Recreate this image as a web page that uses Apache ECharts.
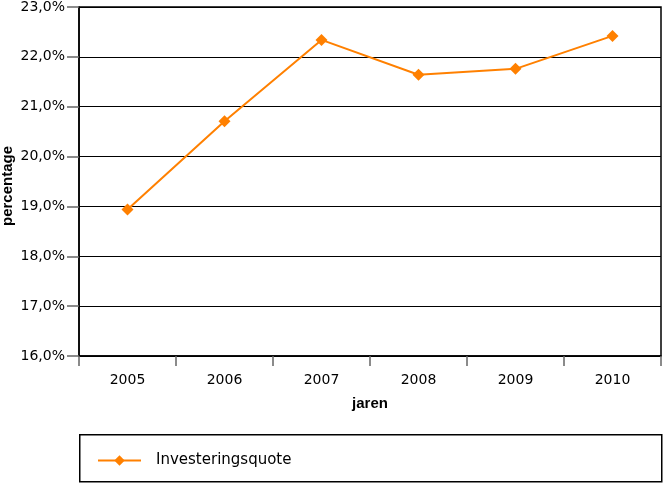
<!DOCTYPE html>
<html><head><meta charset="utf-8">
<script src="https://cdn.jsdelivr.net/npm/echarts@6/dist/echarts.min.js"></script>
<style>html,body{margin:0;padding:0;background:#fff}#c{width:664px;height:483px}</style>
</head><body><div id="c"></div>
<script>
const categories = ['2005','2006','2007','2008','2009','2010'];
const seriesName = 'Investeringsquote';
const values = [18.94, 20.71, 22.34, 21.64, 21.76, 22.42];
const yMin = 16, yMax = 23, yStep = 1;
const xName = 'jaren', yName = 'percentage';

const chart = echarts.init(document.getElementById('c'));
const font = 'DejaVu Sans, Arial, sans-serif';
const boldFont = 'Liberation Sans, Arial, sans-serif';
chart.setOption({
  animation: false,
  grid: {left: 79, right: 3, top: 7, bottom: 127, containLabel: false, outerBoundsMode: 'none',
    show: true, borderColor: '#000', borderWidth: 1.5, backgroundColor: '#fff'},
  xAxis: {
    type: 'category', data: categories, boundaryGap: true,
    name: xName, nameLocation: 'middle', nameGap: 40, nameMoveOverlap: false,
    nameTextStyle: {fontFamily: boldFont, fontSize: 15, fontWeight: 'bold', color: '#000'},
    axisLine: {lineStyle: {color: '#000', width: 1.5}},
    axisTick: {show: true, length: 10, lineStyle: {color: '#666', width: 1.5}},
    axisLabel: {fontFamily: font, fontSize: 14, color: '#000', margin: 17}
  },
  yAxis: {
    type: 'value', min: yMin, max: yMax, interval: yStep,
    axisLine: {show: true, lineStyle: {color: '#000', width: 1.5}},
    axisTick: {show: true, length: 12, lineStyle: {color: '#666', width: 1.5}},
    splitLine: {show: true, lineStyle: {color: '#000', width: 1}},
    axisLabel: {fontFamily: font, fontSize: 14, color: '#000', margin: 14,
      formatter: v => v.toFixed(1).replace('.', ',') + '%'}
  },
  legend: {
    left: 97, top: 453, padding: 0, itemWidth: 43, itemHeight: 13, itemGap: 10,
    textStyle: {fontFamily: font, fontSize: 15, color: '#000', padding: [0,0,0,10]},
    data: [seriesName]
  },
  graphic: [{
    type: 'rect', left: 79, top: 434, z: -1,
    shape: {width: 582, height: 47},
    style: {fill: '#fff', stroke: '#000', lineWidth: 1.5}
  }, {
    type: 'text', x: 8, y: 186, rotation: Math.PI / 2,
    style: {text: yName, font: 'bold 15px Liberation Sans, Arial, sans-serif', fill: '#000',
      align: 'center', verticalAlign: 'middle'}
  }],
  series: [{
    name: seriesName, type: 'line', data: values,
    symbol: 'diamond', symbolSize: 12,
    lineStyle: {color: '#ff8000', width: 2},
    itemStyle: {color: '#ff8000'}
  }]
});
</script></body></html>
